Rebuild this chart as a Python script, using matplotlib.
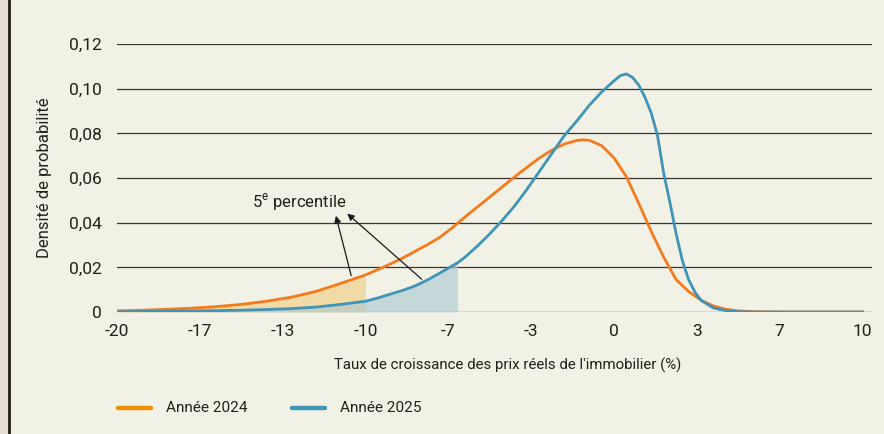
import numpy as np
import matplotlib.pyplot as plt
from matplotlib.lines import Line2D

plt.rcParams['font.family'] = ['Roboto', 'DejaVu Sans']
plt.rcParams['mathtext.fontset'] = 'custom'
plt.rcParams['mathtext.rm'] = 'Roboto'

# Densité
x_2024 = [-20, -19, -18, -17, -16, -15, -14, -13, -12, -11, -10, -9.5, -9, -8.5, -8,
          -7.5, -7, -6.5, -6, -5.5, -5, -4.5, -4, -3.5, -3, -2.5, -2, -1.5, -1.25,
          -1, -0.5, 0, 0.5, 1, 1.5, 2, 2.5, 3, 3.5, 4, 4.5, 5, 5.5, 6, 7, 10]
y_2024 = [0.0005, 0.0008, 0.0012, 0.0017, 0.0024, 0.0034, 0.0048, 0.0066, 0.0092,
          0.0128, 0.0166, 0.0190, 0.0215, 0.0242, 0.0272, 0.0302, 0.0335, 0.0378,
          0.0425, 0.0470, 0.0515, 0.0560, 0.0605, 0.0648, 0.0690, 0.0725, 0.0752,
          0.0768, 0.0771, 0.0769, 0.0745, 0.0690, 0.0605, 0.0485, 0.0360, 0.0245,
          0.0145, 0.0092, 0.0053, 0.0027, 0.0012, 0.0005, 0.0002, 0.0001, 0.0, 0.0]

x_2025 = [-20, -18, -16, -15, -14, -13, -12, -11, -10, -9.5, -9, -8.5, -8, -7.5, -7,
          -6.3, -6, -5.5, -5, -4.5, -4, -3.5, -3, -2.5, -2, -1.5, -1, -0.5, 0, 0.25,
          0.5, 0.75, 1, 1.25, 1.5, 1.75, 2, 2.25, 2.5, 2.75, 3, 3.25, 3.5, 4, 4.5,
          5, 6, 10]
y_2025 = [0.0001, 0.0003, 0.0006, 0.0008, 0.0011, 0.0015, 0.0022, 0.0034, 0.0048,
          0.0063, 0.0080, 0.0097, 0.0117, 0.0144, 0.0175, 0.0220, 0.0245, 0.0295,
          0.0350, 0.0410, 0.0475, 0.0550, 0.0630, 0.0710, 0.0790, 0.0855, 0.0925,
          0.0985, 0.1035, 0.1058, 0.1066, 0.1050, 0.1015, 0.0960, 0.0890, 0.0790,
          0.0620, 0.0490, 0.0350, 0.0230, 0.0145, 0.0090, 0.0052, 0.0018, 0.0006,
          0.0001, 0.0, 0.0]

p5_2024 = -10
p5_2025 = -6.3

xticks = np.linspace(-20, 10, 10)
xtick_labels = ['-20', '-17', '-13', '-10', '-7', '-3', '0', '3', '7', '10']
yticks = [0, 0.02, 0.04, 0.06, 0.08, 0.10, 0.12]
ytick_labels = ['0', '0,02', '0,04', '0,06', '0,08', '0,10', '0,12']

bg = '#f2f1e6'
c24 = '#f57a1c'
c25 = '#3f94b8'

fig = plt.figure(figsize=(8.84, 4.34), dpi=100, facecolor=bg)
ax = fig.add_axes([117 / 884, 1 - 312 / 434, (871.5 - 117) / 884, (312 - 44) / 434])
ax.set_facecolor(bg)

x24 = np.array(x_2024)
y24 = np.array(y_2024)
x25 = np.array(x_2025)
y25 = np.array(y_2025)

ax.fill_between(x24, 0, y24, where=x24 <= p5_2024, color='#f0daa6', lw=0, zorder=2)
ax.fill_between(x25, 0, y25, where=x25 <= p5_2025, color='#a9c9d2', alpha=0.62, lw=0, zorder=3)

for yv in yticks:
    ax.axhline(yv, color='#3a342c', lw=0.9, zorder=1)

ax.plot(x24, y24, color=c24, lw=2, zorder=5, solid_joinstyle='round')
ax.plot(x25, y25, color=c25, lw=2, zorder=5, solid_joinstyle='round')

ax.set_xlim(-20, 10.36)
ax.set_ylim(0, 0.12)
ax.set_xticks(xticks)
ax.set_xticklabels(xtick_labels)
ax.set_yticks(yticks)
ax.set_yticklabels(ytick_labels)
ax.tick_params(length=0, labelsize=12.5, colors='#231f1a')
ax.tick_params(axis='y', pad=11)
ax.tick_params(axis='x', pad=9)
for s in ax.spines.values():
    s.set_visible(False)

ax.set_ylabel('Densité de probabilité', fontsize=12, color='#231f1a', labelpad=12)
fig.text(508 / 884, 1 - 365 / 434, "Taux de croissance des prix réels de l'immobilier (%)",
         ha='center', va='center', fontsize=10.8, color='#231f1a')

ax.text(-12.67, 0.0493, r'5$^{\mathrm{e}}$ percentile', ha='center', va='center',
        fontsize=12, color='#231f1a', zorder=6)
arrow = dict(arrowstyle='-|>', color='#1a1a1a', lw=0.9, mutation_scale=10)
ax.annotate('', xy=(-11.22, 0.0443), xytext=(-10.55, 0.0151), arrowprops=arrow, zorder=6)
ax.annotate('', xy=(-10.82, 0.0449), xytext=(-7.66, 0.0139), arrowprops=arrow, zorder=6)

# légende
fig.lines.append(Line2D([118 / 884, 151 / 884], [1 - 408 / 434] * 2, color='#ec8f00',
                        lw=3.2, solid_capstyle='round', transform=fig.transFigure))
fig.lines.append(Line2D([292 / 884, 325 / 884], [1 - 408 / 434] * 2, color='#4196bb',
                        lw=3.2, solid_capstyle='round', transform=fig.transFigure))
fig.text(166 / 884, 1 - 408 / 434, 'Année 2024', ha='left', va='center', fontsize=11, color='#231f1a')
fig.text(340 / 884, 1 - 408 / 434, 'Année 2025', ha='left', va='center', fontsize=11, color='#231f1a')

# bande à gauche
fig.patches.append(plt.Rectangle((0, 0), 8 / 884, 1, color='#e5dfd0', transform=fig.transFigure))
fig.lines.append(Line2D([9 / 884, 9 / 884], [0, 1], color='#1f1a14', lw=2, transform=fig.transFigure))

fig.savefig('out.png', dpi=100, facecolor=bg)
